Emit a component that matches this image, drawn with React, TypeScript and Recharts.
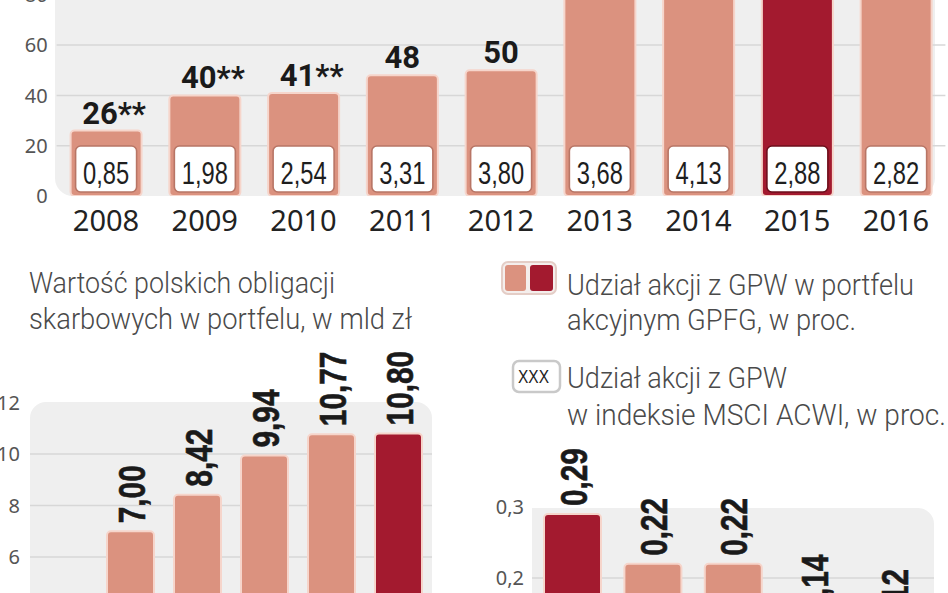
import { BarChart, Bar, XAxis, YAxis, CartesianGrid, LabelList } from 'recharts';

// top chart: GPFG, 2008-2016 (2013-2016 bars run off the top of the picture, values estimated)
const years = ['2008', '2009', '2010', '2011', '2012', '2013', '2014', '2015', '2016'];
const gpfgValues = [26, 40, 41, 48, 50, 91, 96, 86, 88];
const gpfgNotes = ['**', '**', '**', '', '', '', '', '', ''];
const msciShare = [0.85, 1.98, 2.54, 3.31, 3.8, 3.68, 4.13, 2.88, 2.82];
const topTicks = [0, 20, 40, 60, 80];

// bottom left: polish treasury bonds, bln zl (first bar is below the visible part)
const bondYears = ['2010', '2011', '2012', '2013', '2014', '2015'];
const bondValues = [null, 7.0, 8.42, 9.94, 10.77, 10.8];
const bondTicks = [0, 2, 4, 6, 8, 10, 12];

// bottom right: share in %
const shareCats = ['2012', '2013', '2014', '2015', '2016'];
const shareValues = [0.29, 0.22, 0.22, 0.14, 0.12];
const shareTicks = [0, 0.1, 0.2, 0.3];

const TOP_HIGHLIGHT = '2015';
const BOND_HIGHLIGHT = '2015';
const SHARE_HIGHLIGHT = '2012';

const PINK = '#db927f';
const DARK = '#a31a2f';
const EDGE = '#f6d5cb';
const PANEL = '#efefef';
const GRID = '#d7d7d7';
const SANS = '"Noto Sans", sans-serif';
const ARIAL = '"Liberation Sans", Arial, sans-serif';
const LIGHT = 'Roboto, sans-serif';

const topData = years.map((year, i) => ({ year, gpfg: gpfgValues[i], note: gpfgNotes[i], msci: msciShare[i] }));
const bondData = bondYears.map((year, i) => ({ year, value: bondValues[i] }));
const shareData = shareCats.map((cat, i) => ({ cat, value: shareValues[i] }));

const comma = (v: number, d = 2) => v.toFixed(d).replace('.', ',');
// the paper uses a condensed face, so squeeze the text to its width
const squeeze = (s: string, digit: number, sep: number) =>
  s.split('').reduce((a, c) => a + (c === ',' ? sep : digit), 0);

const TopBar = (props: any) => {
  const { x, y, width, height, payload } = props;
  if (height == null || height <= 0) return null;
  const dark = payload.year === TOP_HIGHLIGHT;
  const bottom = y + height;
  const txt = comma(payload.msci);
  return (
    <g>
      <rect x={x} y={y} width={width} height={height} rx={4} fill={dark ? DARK : PINK} stroke={EDGE} strokeWidth={2} />
      <rect x={x + 5} y={bottom - 50} width={width - 10} height={46} rx={5} fill="#fff"
        stroke={dark ? '#6d0e1b' : '#b87565'} strokeWidth={1.6} />
      <text x={x + width / 2} y={bottom - 12} textAnchor="middle" fontSize={31} fontFamily={ARIAL} fill="#1e1e1e"
        textLength={squeeze(txt, 13.4, 6)} lengthAdjust="spacingAndGlyphs">
        {txt}
      </text>
    </g>
  );
};

const TopLabel = (props: any) => {
  const { x, y, width, value, index } = props;
  const note = topData[index].note;
  return (
    <text x={x + width / 2 + (note ? 8 : 0)} y={y - 7} textAnchor="middle" fontSize={31}
      fontWeight={700} fontFamily="Roboto, sans-serif" fill="#1a1a1a">
      {value}{note}
    </text>
  );
};

const makeBar = (key: string, highlight: string) => (props: any) => {
  const { x, y, width, height, payload } = props;
  if (height == null || height <= 0) return null;
  const dark = payload[key] === highlight;
  return <rect x={x} y={y} width={width} height={height} rx={4} fill={dark ? DARK : PINK} stroke={EDGE} strokeWidth={2} />;
};

const VerticalLabel = (props: any) => {
  const { x, y, width, value } = props;
  if (value == null) return null;
  const cx = x + width / 2;
  const txt = comma(value);
  return (
    <text transform={`translate(${cx + 14}, ${y - 8}) rotate(-90)`} x={0} y={0} textAnchor="start"
      fontSize={37} fontWeight={700} fontFamily={ARIAL} fill="#1a1a1a" stroke="#1a1a1a" strokeWidth={0.6}
      textLength={squeeze(txt, 16.5, 8.5)} lengthAdjust="spacingAndGlyphs">
      {txt}
    </text>
  );
};

const textBlock = [
  { text: 'Wartość polskich obligacji', x: 29, y: 293, w: 306 },
  { text: 'skarbowych w portfelu, w mld zł', x: 29, y: 329, w: 383 },
  { text: 'Udział akcji z GPW w portfelu', x: 567, y: 295, w: 347 },
  { text: 'akcyjnym GPFG, w proc.', x: 567, y: 330, w: 289 },
  { text: 'Udział akcji z GPW', x: 567, y: 388, w: 220 },
  { text: 'w indeksie MSCI ACWI, w proc.', x: 567, y: 425, w: 379 },
];

const App = () => {
  return (
    <div style={{ position: 'absolute', left: 0, top: 0, width: 948, height: 593, overflow: 'hidden', background: '#fff' }}>
      {/* grey panels behind the plots */}
      <div style={{ position: 'absolute', left: 55, top: -20, width: 880, height: 216, background: PANEL, borderRadius: '0 0 18px 18px' }} />
      <div style={{ position: 'absolute', left: 30, top: 402, width: 402, height: 260, background: PANEL, borderRadius: '16px 16px 0 0' }} />
      <div style={{ position: 'absolute', left: 532, top: 508, width: 402, height: 160, background: PANEL, borderRadius: '0 16px 0 0' }} />

      <div style={{ position: 'absolute', left: 0, top: -70 }}>
        <BarChart width={948} height={316} data={topData} margin={{ top: 14.5, right: 2.6, bottom: 10, left: 0 }}>
          <CartesianGrid vertical={false} horizontalValues={[20, 40, 60, 80]} stroke={GRID} strokeWidth={1.5} />
          <XAxis dataKey="year" axisLine={false} tickLine={false} tickSize={0} tickMargin={14} height={40}
            tick={{ fontSize: 29, fill: '#222', fontFamily: SANS }} interval={0} />
          <YAxis domain={[0, 100]} ticks={topTicks} axisLine={false} tickLine={false} tickSize={0} tickMargin={9}
            width={56.6} allowDataOverflow tick={{ fontSize: 20, fill: '#555', fontFamily: SANS }} />
          <Bar dataKey="gpfg" barSize={71} shape={TopBar} isAnimationActive={false}>
            <LabelList dataKey="gpfg" content={TopLabel} />
          </Bar>
        </BarChart>
      </div>

      <div style={{ position: 'absolute', left: 0, top: 280 }}>
        <BarChart width={440} height={431.5} data={bondData} margin={{ top: 71, right: 8, bottom: 0, left: 0 }}>
          <CartesianGrid vertical={false} horizontalValues={[2, 4, 6, 8, 10]} stroke={GRID} strokeWidth={1.5} />
          <XAxis dataKey="year" hide />
          <YAxis domain={[0, 14]} ticks={bondTicks} axisLine={false} tickLine={false} tickSize={0} tickMargin={10}
            width={30} tick={{ fontSize: 20, fill: '#555', fontFamily: SANS }} />
          <Bar dataKey="value" barSize={47} shape={makeBar('year', BOND_HIGHLIGHT)} isAnimationActive={false}>
            <LabelList dataKey="value" content={VerticalLabel} />
          </Bar>
        </BarChart>
      </div>

      <div style={{ position: 'absolute', left: 474, top: 400 }}>
        <BarChart width={474} height={320} data={shareData} margin={{ top: 71.5, right: 14, bottom: 0, left: 0 }}>
          <CartesianGrid vertical={false} horizontalValues={[0.1, 0.2]} stroke={GRID} strokeWidth={1.5} />
          <XAxis dataKey="cat" hide />
          <YAxis domain={[0, 0.35]} ticks={shareTicks} axisLine={false} tickLine={false} tickSize={0} tickMargin={8}
            width={58} tickFormatter={(v: number) => comma(v, 1)} tick={{ fontSize: 20, fill: '#555', fontFamily: SANS }} />
          <Bar dataKey="value" barSize={57} shape={makeBar('cat', SHARE_HIGHLIGHT)} isAnimationActive={false}>
            <LabelList dataKey="value" content={VerticalLabel} />
          </Bar>
        </BarChart>
      </div>

      {/* title and legend */}
      <svg width={948} height={593} style={{ position: 'absolute', left: 0, top: 0, pointerEvents: 'none' }}>
        {textBlock.map((t) => (
          <text key={t.text} x={t.x} y={t.y} fontSize={29} fontWeight={300} fontFamily={LIGHT} fill="#4a4a4a"
            textLength={t.w} lengthAdjust="spacingAndGlyphs">
            {t.text}
          </text>
        ))}
        <rect x={502} y={262} width={54} height={32} rx={6} fill="#f4eeec" stroke="#e4cdc6" strokeWidth={2} />
        <rect x={505} y={265} width={21} height={26} rx={3} fill={PINK} />
        <rect x={530} y={265} width={23} height={26} rx={3} fill={DARK} />
        <rect x={513} y={361} width={47} height={31} rx={6} fill="#fff" stroke="#c9c9c9" strokeWidth={2.5} />
        <text x={518} y={383} fontSize={18} fontFamily={ARIAL} fill="#222" textLength={31} lengthAdjust="spacingAndGlyphs">XXX</text>
      </svg>
    </div>
  );
};

export default App;
